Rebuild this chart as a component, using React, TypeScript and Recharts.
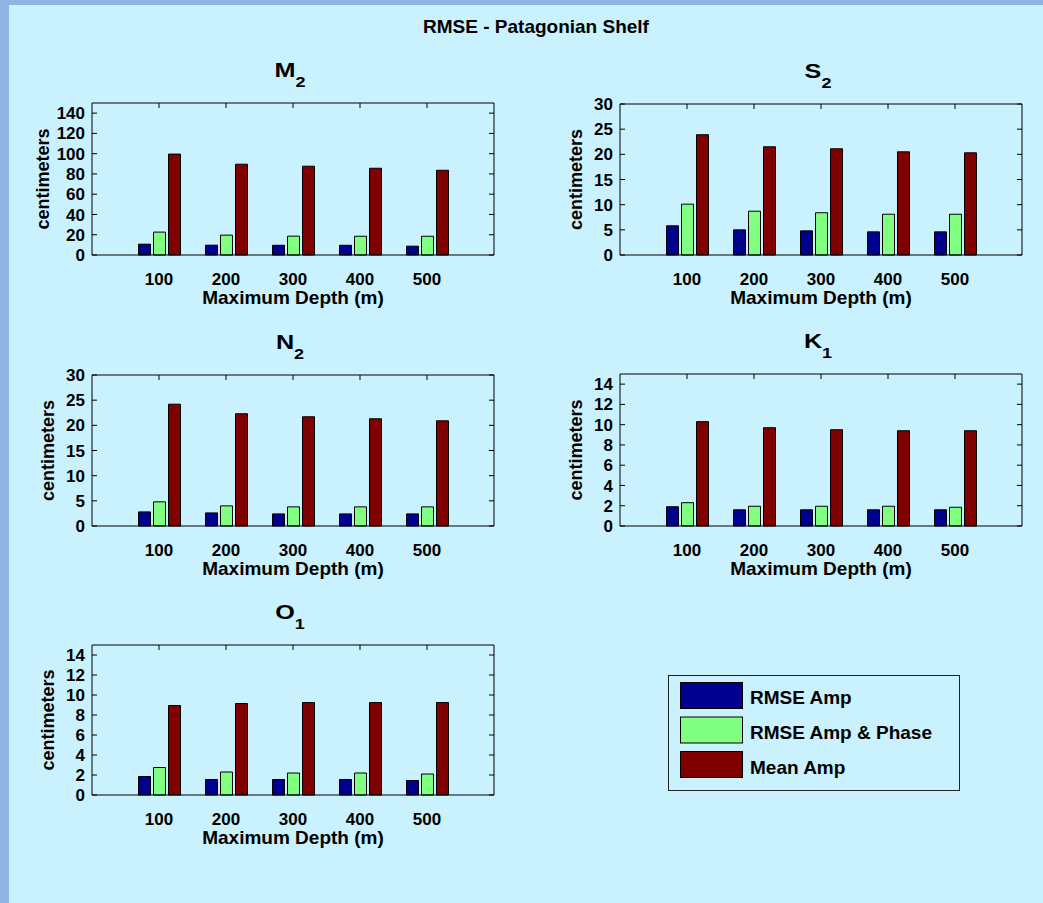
import { BarChart, Bar, XAxis, YAxis } from 'recharts'

const FONT = '"Liberation Sans", Arial, Helvetica, sans-serif'

// categories and series
const depths = ['100', '200', '300', '400', '500']
const seriesNames = ['RMSE Amp', 'RMSE Amp & Phase', 'Mean Amp']
const seriesColors = ['#00008f', '#80ff80', '#800000']

// M2
const m2Amp = [10.7, 9.7, 9.6, 9.6, 8.7]
const m2AmpPhase = [22.6, 19.6, 18.6, 18.5, 18.5]
const m2Mean = [99.6, 89.6, 87.6, 85.6, 83.6]
// S2
const s2Amp = [5.8, 5.0, 4.8, 4.6, 4.6]
const s2AmpPhase = [10.1, 8.7, 8.4, 8.1, 8.1]
const s2Mean = [23.9, 21.5, 21.1, 20.5, 20.3]
// N2
const n2Amp = [2.8, 2.6, 2.4, 2.4, 2.4]
const n2AmpPhase = [4.8, 4.0, 3.8, 3.8, 3.8]
const n2Mean = [24.2, 22.3, 21.7, 21.3, 20.9]
// K1
const k1Amp = [1.9, 1.6, 1.6, 1.6, 1.6]
const k1AmpPhase = [2.3, 1.95, 1.95, 1.95, 1.85]
const k1Mean = [10.3, 9.7, 9.5, 9.4, 9.4]
// O1
const o1Amp = [1.85, 1.55, 1.55, 1.55, 1.45]
const o1AmpPhase = [2.75, 2.3, 2.2, 2.2, 2.1]
const o1Mean = [8.95, 9.15, 9.25, 9.25, 9.25]

// tick labels
const ticks150 = [0, 20, 40, 60, 80, 100, 120, 140]
const ticks30 = [0, 5, 10, 15, 20, 25, 30]
const ticks15 = [0, 2, 4, 6, 8, 10, 12, 14]

const panels = [
  { name: 'M', sub: '2', amp: m2Amp, ampPhase: m2AmpPhase, mean: m2Mean, max: 150, ticks: ticks150 },
  { name: 'S', sub: '2', amp: s2Amp, ampPhase: s2AmpPhase, mean: s2Mean, max: 30, ticks: ticks30 },
  { name: 'N', sub: '2', amp: n2Amp, ampPhase: n2AmpPhase, mean: n2Mean, max: 30, ticks: ticks30 },
  { name: 'K', sub: '1', amp: k1Amp, ampPhase: k1AmpPhase, mean: k1Mean, max: 15, ticks: ticks15 },
  { name: 'O', sub: '1', amp: o1Amp, ampPhase: o1AmpPhase, mean: o1Mean, max: 15, ticks: ticks15 },
]

// where each plot box sits on the page
const layouts = [
  { left: 92, top: 103, h: 152, labelX: 41 },
  { left: 620, top: 104, h: 151, labelX: 46 },
  { left: 92, top: 375, h: 151, labelX: 46 },
  { left: 620, top: 374, h: 152, labelX: 46 },
  { left: 92, top: 645, h: 150, labelX: 46 },
]

const PW = 402
const ML = 90
const MT = 10
const MR = 10
const XH = 60
const TICK = 5

function PanelChart({ panel, layout }: any) {
  const data = depths.map((d, i) => ({
    depth: d,
    amp: panel.amp[i],
    ampPhase: panel.ampPhase[i],
    mean: panel.mean[i],
  }))
  const plotL = ML
  const plotR = ML + PW
  const plotT = MT
  const plotB = MT + layout.h

  const renderYTick = (props: any) => {
    const { y, payload } = props
    return (
      <g>
        <line x1={plotL} x2={plotL + TICK} y1={y} y2={y} stroke="#000" />
        <line x1={plotR - TICK} x2={plotR} y1={y} y2={y} stroke="#000" />
        <text x={plotL - 7} y={y} dy="0.355em" textAnchor="end" fontFamily={FONT} fontWeight="bold" fontSize={17} fill="#000">
          {payload.value}
        </text>
      </g>
    )
  }

  const renderXTick = (props: any) => {
    const { x, payload } = props
    return (
      <g>
        <line x1={x} x2={x} y1={plotT} y2={plotT + TICK} stroke="#000" />
        <text x={x} y={plotB + 30} textAnchor="middle" fontFamily={FONT} fontWeight="bold" fontSize={17} fill="#000">
          {payload.value}
        </text>
      </g>
    )
  }

  const keys = ['amp', 'ampPhase', 'mean']

  return (
    <div style={{ position: 'absolute', left: layout.left - ML, top: layout.top - MT }}>
      <BarChart
        width={ML + PW + MR}
        height={MT + layout.h + XH}
        data={data}
        margin={{ top: MT - 1, right: MR - 1, bottom: 0, left: 0 }}
        barSize={12}
        barGap={3}
      >
        <XAxis
          xAxisId="b"
          dataKey="depth"
          height={XH}
          padding={{ left: 33.5, right: 33.5 }}
          axisLine={{ stroke: '#000' }}
          tickLine={false}
          tick={renderXTick}
          interval={0}
          label={{
            value: 'Maximum Depth (m)',
            position: 'insideBottom',
            offset: 11,
            fill: '#000',
            fontFamily: FONT,
            fontWeight: 'bold',
            fontSize: 19,
          }}
        />
        <XAxis
          xAxisId="t"
          orientation="top"
          dataKey="depth"
          height={1}
          padding={{ left: 33.5, right: 33.5 }}
          axisLine={{ stroke: '#000' }}
          tickLine={false}
          tick={false}
        />
        <YAxis
          yAxisId="l"
          type="number"
          width={ML}
          domain={[0, panel.max]}
          ticks={panel.ticks}
          interval={0}
          axisLine={{ stroke: '#000' }}
          tickLine={false}
          tick={renderYTick}
          label={{
            value: 'centimeters',
            angle: -90,
            position: 'insideLeft',
            offset: layout.labelX,
            fill: '#000',
            fontFamily: FONT,
            fontWeight: 'bold',
            fontSize: 18,
            style: { textAnchor: 'middle' },
          }}
        />
        <YAxis
          yAxisId="r"
          orientation="right"
          type="number"
          width={1}
          domain={[0, panel.max]}
          axisLine={{ stroke: '#000' }}
          tickLine={false}
          tick={false}
        />
        {keys.map((k, i) => (
          <Bar
            key={k}
            xAxisId="b"
            yAxisId="l"
            dataKey={k}
            name={seriesNames[i]}
            fill={seriesColors[i]}
            stroke="#000"
            strokeWidth={1}
            isAnimationActive={false}
          />
        ))}
      </BarChart>
    </div>
  )
}

export default function App() {
  return (
    <div
      style={{
        position: 'fixed',
        left: 0,
        top: 0,
        width: 1043,
        height: 903,
        background: '#c9f1fe',
        borderLeft: '9px solid #8fb4e4',
        borderTop: '5px solid #8fb4e4',
        boxSizing: 'border-box',
        overflow: 'hidden',
      }}
    >
      <svg width={1043} height={903} style={{ position: 'absolute', left: -9, top: -5 }}>
        <text x={536} y={33} textAnchor="middle" fontFamily={FONT} fontWeight="bold" fontSize={19} fill="#000">
          RMSE - Patagonian Shelf
        </text>
        {panels.map((p, i) => {
          const l = layouts[i]
          return (
            <g key={p.name} transform={`translate(${l.left + PW / 2 - 3}, ${l.top - 26}) scale(1.2, 1)`}>
              <text x={0} y={0} textAnchor="middle" fontFamily={FONT} fontWeight="bold" fontSize={21} fill="#000">
                <tspan>{p.name}</tspan>
                <tspan fontSize={15} dy={10}>{p.sub}</tspan>
              </text>
            </g>
          )
        })}
        {/* legend */}
        <rect x={668.5} y={675.5} width={291} height={115} fill="none" stroke="#222" />
        {seriesNames.map((s, i) => (
          <g key={s}>
            <rect x={680.5} y={682.5 + i * 34.5} width={62} height={26} fill={seriesColors[i]} stroke="#000" />
            <text x={750} y={704 + i * 35} fontFamily={FONT} fontWeight="bold" fontSize={19} fill="#000">
              {s}
            </text>
          </g>
        ))}
      </svg>
      <div style={{ position: 'absolute', left: -9, top: -5 }}>
        {panels.map((p, i) => (
          <PanelChart key={p.name} panel={p} layout={layouts[i]} />
        ))}
      </div>
    </div>
  )
}
